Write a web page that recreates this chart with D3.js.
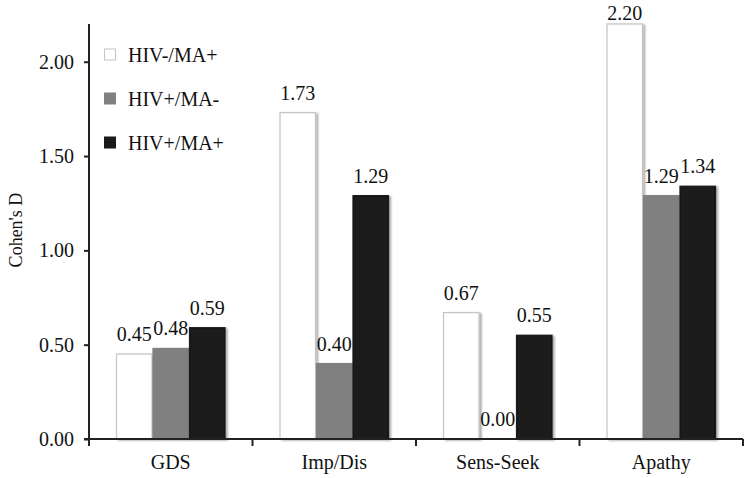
<!DOCTYPE html>
<html><head><meta charset="utf-8">
<script src="https://cdn.jsdelivr.net/npm/d3@7"></script>
<style>body{margin:0;background:#fff}svg{display:block}</style>
</head><body>
<svg id="c" width="750" height="478"></svg>
<script>
const categories = ["GDS", "Imp/Dis", "Sens-Seek", "Apathy"];
const seriesNames = ["HIV-/MA+", "HIV+/MA-", "HIV+/MA+"];
const hivNegMaPos = [0.45, 1.73, 0.67, 2.20];
const hivPosMaNeg = [0.48, 0.40, 0.00, 1.29];
const hivPosMaPos = [0.59, 1.29, 0.55, 1.34];
const yTicks = [0, 0.5, 1.0, 1.5, 2.0];
const colors = ["#ffffff", "#808080", "#1a1a1a"];
const strokes = ["#c4c4c4", "#808080", "#1a1a1a"];

const series = [hivNegMaPos, hivPosMaNeg, hivPosMaPos];
const svg = d3.select("#c");
const font = "Liberation Serif, Tinos, Times New Roman, Times, DejaVu Serif, serif";
const m = {l: 89, r: 7, t: 24, b: 39};
const W = 750, H = 478;
const x0 = d3.scaleBand().domain(categories).range([m.l, W - m.r]).paddingInner(0).paddingOuter(0);
const x1 = d3.scaleBand().domain(d3.range(3)).range([0, x0.bandwidth()]).paddingInner(0).paddingOuter(0.74);
const y = d3.scaleLinear().domain([0, 2.2]).range([H - m.b, m.t]);

const defs = svg.append("defs");
const f = defs.append("filter").attr("id", "sh").attr("x", "-20%").attr("y", "-5%").attr("width", "150%").attr("height", "115%");
f.append("feGaussianBlur").attr("in", "SourceAlpha").attr("stdDeviation", 1.2).attr("result", "b");
f.append("feOffset").attr("in", "b").attr("dx", 2).attr("dy", 1).attr("result", "o");
f.append("feComponentTransfer").attr("in", "o").attr("result", "o2").append("feFuncA").attr("type", "linear").attr("slope", 0.35);
const mg = f.append("feMerge");
mg.append("feMergeNode").attr("in", "o2");
mg.append("feMergeNode").attr("in", "SourceGraphic");

// bars
const g = svg.append("g");
categories.forEach((c, ci) => {
  series.forEach((s, si) => {
    const v = s[ci];
    const bx = x0(c) + x1(si);
    if (v > 0) {
      g.append("rect")
        .attr("x", bx + 0.5).attr("y", y(v))
        .attr("width", x1.bandwidth() - 1).attr("height", y(0) - y(v))
        .attr("fill", colors[si]).attr("stroke", strokes[si]).attr("stroke-width", 1.2)
        .attr("filter", "url(#sh)");
    }
    g.append("text")
      .attr("x", bx + x1.bandwidth() / 2).attr("y", Math.max(y(v) - 13, 20))
      .attr("text-anchor", "middle")
      .attr("font-family", font).attr("font-size", 20).attr("fill", "#111")
      .text(v.toFixed(2));
  });
});

// axes
const yAxis = d3.axisLeft(y).tickValues(yTicks).tickFormat(d3.format(".2f")).tickSize(5).tickPadding(10);
const ya = svg.append("g").attr("transform", `translate(${m.l},0)`).call(yAxis);
ya.select(".domain").attr("d", `M-0,${m.t}V${y(0)}`).attr("stroke", "#222").attr("stroke-width", 2);
ya.selectAll(".tick line").attr("stroke", "#222").attr("stroke-width", 2);
ya.selectAll("text").attr("font-family", font).attr("font-size", 20).attr("fill", "#111");

const xa = svg.append("g").attr("transform", `translate(0,${y(0)})`);
xa.append("line").attr("x1", m.l - 5).attr("x2", W - m.r).attr("stroke", "#222").attr("stroke-width", 2);
const bounds = categories.map(c => x0(c)).concat([x0(categories[categories.length - 1]) + x0.bandwidth()]);
xa.selectAll("line.tk").data(bounds).enter().append("line").attr("class", "tk")
  .attr("x1", d => d).attr("x2", d => d).attr("y1", 0).attr("y2", 7)
  .attr("stroke", "#222").attr("stroke-width", 2);
xa.selectAll("text").data(categories).enter().append("text")
  .attr("x", d => x0(d) + x0.bandwidth() / 2).attr("y", 30)
  .attr("text-anchor", "middle").attr("font-family", font).attr("font-size", 20).attr("fill", "#111")
  .text(d => d);

svg.append("text").attr("transform", `translate(22,230) rotate(-90)`)
  .attr("text-anchor", "middle").attr("font-family", font).attr("font-size", 18).attr("fill", "#111")
  .text("Cohen's D");

// legend
const lg = svg.append("g");
seriesNames.forEach((n, i) => {
  const yy = 55 + i * 44;
  lg.append("rect").attr("x", 104.5).attr("y", yy - 6).attr("width", 11).attr("height", 11)
    .attr("fill", colors[i]).attr("stroke", strokes[i]).attr("stroke-width", 1);
  lg.append("text").attr("x", 128).attr("y", yy + 7).attr("font-family", font).attr("font-size", 20).attr("fill", "#111").text(n);
});
</script>
</body></html>
